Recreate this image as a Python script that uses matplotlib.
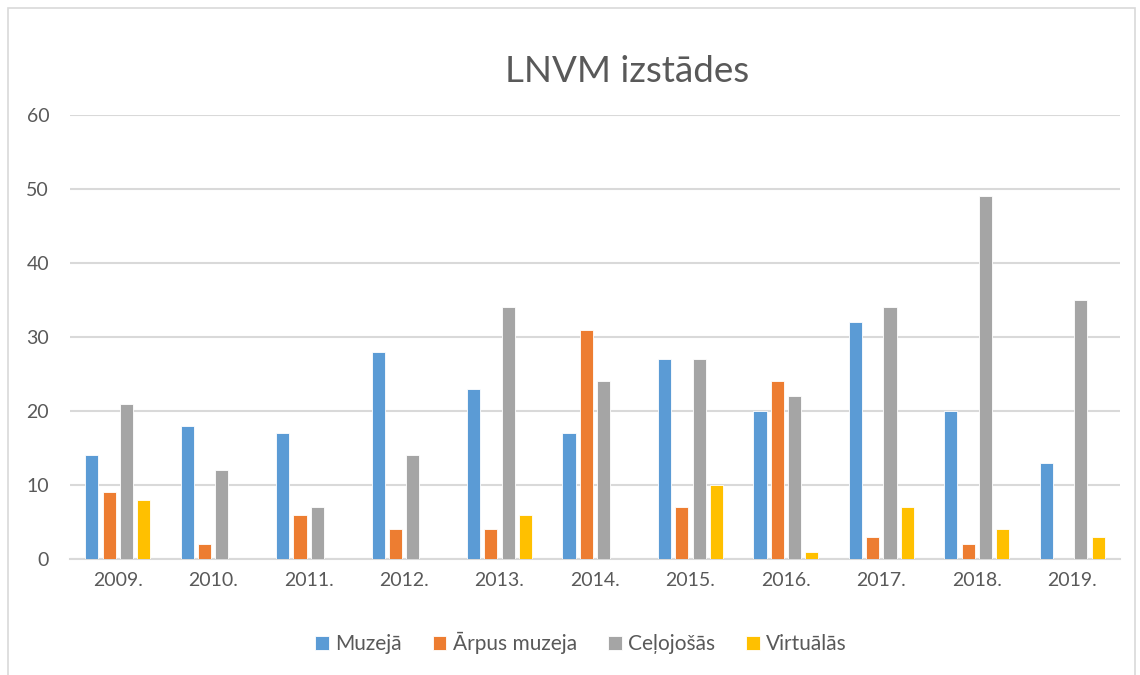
import numpy as np
import matplotlib.pyplot as plt
from matplotlib.patches import Rectangle

# data
years = ['2009.', '2010.', '2011.', '2012.', '2013.', '2014.',
         '2015.', '2016.', '2017.', '2018.', '2019.']
muzeja = [14, 18, 17, 28, 23, 17, 27, 20, 32, 20, 13]
arpus_muzeja = [9, 2, 6, 4, 4, 31, 7, 24, 3, 2, 0]
celojosas = [21, 12, 7, 14, 34, 24, 27, 22, 34, 49, 35]
virtualas = [8, 0, 0, 0, 6, 0, 10, 1, 7, 4, 3]

series = [
    ('Muzejā', muzeja, '#5B9BD5'),
    ('Ārpus muzeja', arpus_muzeja, '#ED7D31'),
    ('Ceļojošās', celojosas, '#A5A5A5'),
    ('Virtuālās', virtualas, '#FFC000'),
]

plt.rcParams['font.family'] = ['Lato', 'DejaVu Sans']
text_col = '#595959'

fig = plt.figure(figsize=(11.4, 6.75), dpi=100)
ax = fig.add_axes([70 / 1140, 1 - 559 / 675, 1050 / 1140, 444 / 675])

x = np.arange(len(years))
pitch = 0.181
width = 0.138
for i, (name, vals, col) in enumerate(series):
    ax.bar(x + (i - 1.5) * pitch, vals, width, color=col, label=name,
           edgecolor='white', linewidth=0.6, zorder=3)

ax.set_xlim(-0.5, len(years) - 0.5)
ax.set_ylim(0, 60)
ax.set_yticks(range(0, 61, 10))
ax.set_xticks(x)
ax.set_xticklabels(years)
ax.tick_params(axis='both', length=0, labelsize=14, colors=text_col)
ax.tick_params(axis='y', pad=15)
ax.tick_params(axis='x', pad=9)
ax.grid(axis='y', color='#D9D9D9', linewidth=1.5, zorder=0)
for s in ['top', 'right', 'left']:
    ax.spines[s].set_visible(False)
ax.spines['bottom'].set_color('#D9D9D9')
ax.spines['bottom'].set_linewidth(1.5)

fig.text(627 / 1140, 1 - 72 / 675, 'LNVM izstādes', ha='center', va='center',
         fontsize=26.5, color=text_col)

leg = fig.legend(loc='center', bbox_to_anchor=(581 / 1140, 1 - 643 / 675),
                 ncol=4, frameon=False, fontsize=15, handlelength=0.65,
                 handleheight=0.65, handletextpad=0.3, columnspacing=1.5)
for t in leg.get_texts():
    t.set_color(text_col)

# chart area border
fig.patches.append(Rectangle((8 / 1140, -0.05), 1127 / 1140, 1.05 - 8 / 675,
                             transform=fig.transFigure, fill=False,
                             edgecolor='#D9D9D9', linewidth=1.2))

fig.savefig('out.png', dpi=100)
